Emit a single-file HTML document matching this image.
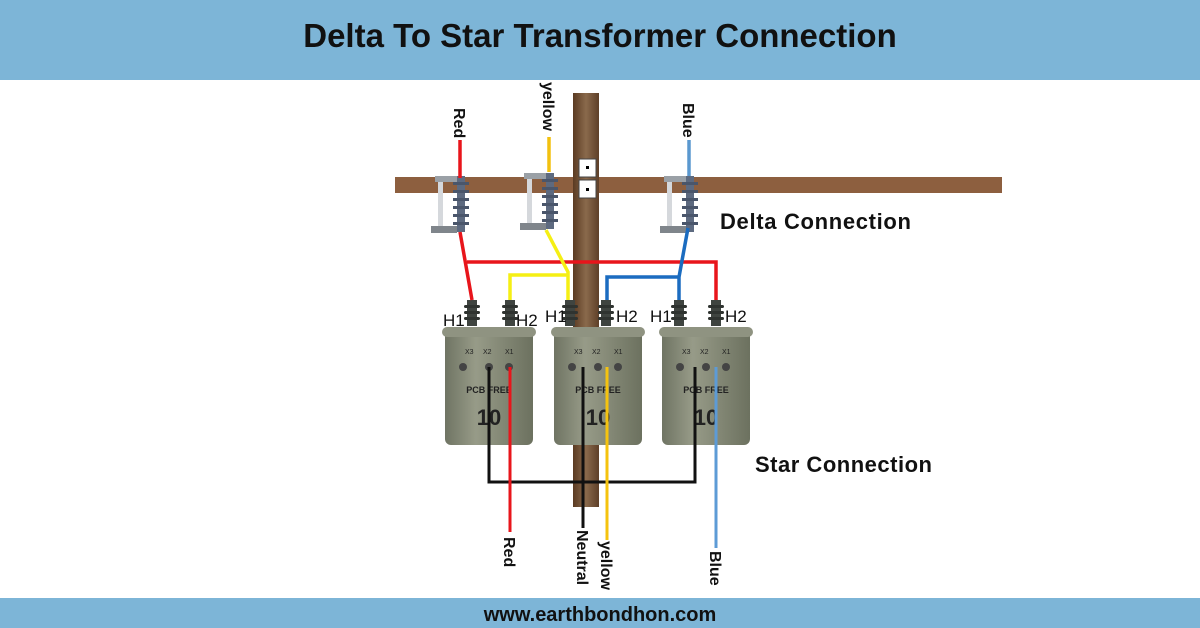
<!DOCTYPE html>
<html><head><meta charset="utf-8"><style>
html,body{margin:0;padding:0;background:#fff}
svg{display:block}
text{font-family:"Liberation Sans",Arial,sans-serif}
</style></head><body>
<svg width="1200" height="628" viewBox="0 0 1200 628" xmlns="http://www.w3.org/2000/svg">
<defs>
<linearGradient id="tank" x1="0" x2="1" y1="0" y2="0">
<stop offset="0" stop-color="#6f7463"/><stop offset="0.35" stop-color="#979b88"/><stop offset="1" stop-color="#6c715f"/>
</linearGradient>
<linearGradient id="pole" x1="0" x2="1"><stop offset="0" stop-color="#5a3a22"/><stop offset="0.5" stop-color="#8a6a4c"/><stop offset="1" stop-color="#5e3f28"/></linearGradient>
<g id="bush"><rect x="-5" y="0" width="10" height="26" fill="#3f4440"/><rect x="-8" y="5" width="16" height="3" rx="1.5" fill="#2f3330"/><rect x="-8" y="11" width="16" height="3" rx="1.5" fill="#2f3330"/><rect x="-8" y="17" width="16" height="3" rx="1.5" fill="#2f3330"/></g>
<g id="ins"><rect x="-4" y="0" width="8" height="56" fill="#5d6a80"/>
<rect x="-8" y="6" width="16" height="3" fill="#4a566b"/><rect x="-8" y="14" width="16" height="3" fill="#4a566b"/><rect x="-8" y="22" width="16" height="3" fill="#4a566b"/><rect x="-8" y="30" width="16" height="3" fill="#4a566b"/><rect x="-8" y="38" width="16" height="3" fill="#4a566b"/><rect x="-8" y="46" width="16" height="3" fill="#4a566b"/>
<rect x="-26" y="0" width="22" height="6" fill="#9aa0a6"/><rect x="-23" y="6" width="5" height="48" fill="#d5d8dc"/><rect x="-30" y="50" width="26" height="7" fill="#7f858b"/></g>
<g id="tr"><rect x="0" y="0" width="88" height="118" rx="6" fill="url(#tank)"/><rect x="-3" y="0" width="94" height="10" rx="5" fill="#8f9381"/>
<text x="44" y="66" font-size="9" font-weight="bold" text-anchor="middle" fill="#222">PCB FREE</text>
<text x="44" y="98" font-size="22" font-weight="bold" text-anchor="middle" fill="#222">10</text>
<text x="20" y="27" font-size="7" fill="#222">X3</text><text x="38" y="27" font-size="7" fill="#222">X2</text><text x="60" y="27" font-size="7" fill="#222">X1</text>
<circle cx="18" cy="40" r="4" fill="#444"/><circle cx="44" cy="40" r="4" fill="#444"/><circle cx="64" cy="40" r="4" fill="#444"/></g>
</defs>
<rect x="0" y="0" width="1200" height="80" fill="#7db5d7"/>
<text x="600" y="47" font-size="33" font-weight="bold" text-anchor="middle" fill="#111">Delta To Star Transformer Connection</text>
<rect x="0" y="598" width="1200" height="30" fill="#7db5d7"/>
<text x="600" y="621" font-size="20" font-weight="bold" text-anchor="middle" fill="#111">www.earthbondhon.com</text>
<rect x="395" y="177" width="607" height="16" fill="#8d5f3f"/>
<rect x="573" y="93" width="26" height="414" fill="url(#pole)"/>
<rect x="579" y="159" width="17" height="18" fill="#fff" stroke="#444"/><rect x="586" y="166" width="3" height="3" fill="#000"/>
<rect x="579" y="180" width="17" height="18" fill="#fff" stroke="#444"/><rect x="586" y="188" width="3" height="3" fill="#000"/>
<use href="#ins" x="461" y="176"/><use href="#ins" x="550" y="173"/><use href="#ins" x="690" y="176"/>
<use href="#tr" x="445" y="327"/><use href="#tr" x="554" y="327"/><use href="#tr" x="662" y="327"/>
<use href="#bush" x="472" y="300"/><use href="#bush" x="510" y="300"/><use href="#bush" x="570" y="300"/><use href="#bush" x="606" y="300"/><use href="#bush" x="679" y="300"/><use href="#bush" x="716" y="300"/>
<g fill="none" stroke-width="3.5">
<path d="M460 140V178M460 232L472 300M467 262H716V300" stroke="#e8151b"/>
<path d="M546 230L568 272V300M510 300V275H568" stroke="#f5ef14"/>
<path d="M549 137V172" stroke="#f2c10f"/>
<path d="M688 228L679 277V300M607 300V277H679" stroke="#1b6cc0"/>
<path d="M689 140V176" stroke="#5a98cf"/>
<path d="M489 367V482H695V367M583 367V528" stroke="#111" stroke-width="3"/>
<path d="M510 367V532" stroke="#e8151b" stroke-width="3"/>
<path d="M607 367V540" stroke="#f5c30f" stroke-width="3"/>
<path d="M716 367V548" stroke="#5d9bd6" stroke-width="3"/>
</g>
<g font-size="16" font-weight="bold" fill="#111">
<text transform="translate(454,108) rotate(90)">Red</text>
<text transform="translate(543,82) rotate(90)">yellow</text>
<text transform="translate(683,103) rotate(90)">Blue</text>
<text transform="translate(504,537) rotate(90)">Red</text>
<text transform="translate(577,530) rotate(90)">Neutral</text>
<text transform="translate(601,541) rotate(90)">yellow</text>
<text transform="translate(710,551) rotate(90)">Blue</text>
</g>
<g font-size="17" fill="#111">
<text x="443" y="326">H1</text><text x="516" y="326">H2</text>
<text x="545" y="322">H1</text><text x="616" y="322">H2</text>
<text x="650" y="322">H1</text><text x="725" y="322">H2</text>
</g>
<text x="720" y="229" font-size="22" font-weight="bold" fill="#111" textLength="191">Delta Connection</text>
<text x="755" y="472" font-size="22" font-weight="bold" fill="#111" textLength="177">Star Connection</text>
</svg>
</body></html>
